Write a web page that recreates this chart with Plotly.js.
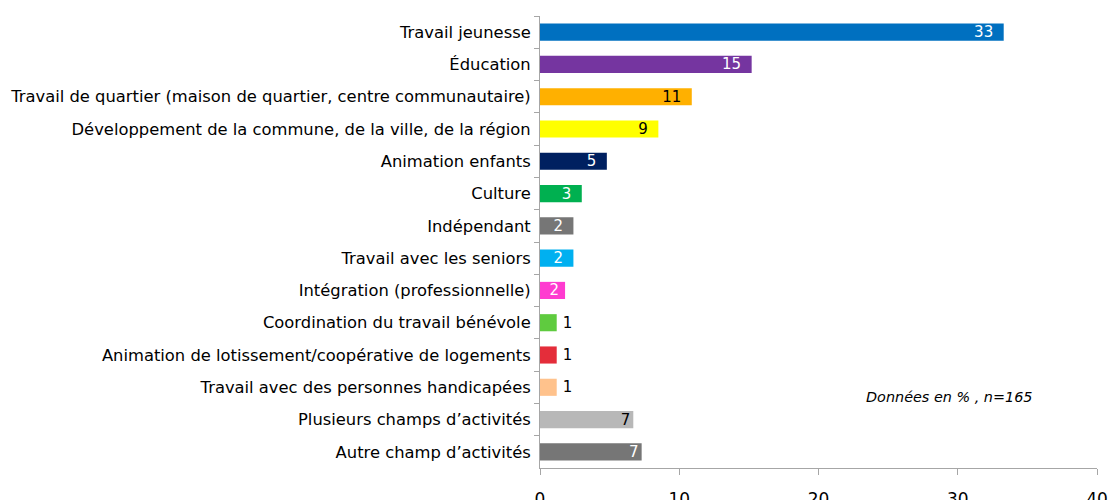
<!DOCTYPE html>
<html>
<head>
<meta charset="utf-8">
<script src="https://cdn.plot.ly/plotly-3.0.1.min.js"></script>
<style>html,body{margin:0;padding:0;background:#fff;}#chart{width:1110px;height:500px;}</style>
</head>
<body>
<div id="chart"></div>
<script>
const categories = [
  "Travail jeunesse",
  "Éducation",
  "Travail de quartier (maison de quartier, centre communautaire)",
  "Développement de la commune, de la ville, de la région",
  "Animation enfants",
  "Culture",
  "Indépendant",
  "Travail avec les seniors",
  "Intégration (professionnelle)",
  "Coordination du travail bénévole",
  "Animation de lotissement/coopérative de logements",
  "Travail avec des personnes handicapées",
  "Plusieurs champs d’activités",
  "Autre champ d’activités"
];
const values = [33.3, 15.2, 10.9, 8.5, 4.8, 3.0, 2.4, 2.4, 1.8, 1.2, 1.2, 1.2, 6.7, 7.3];
const valueLabels = ["33", "15", "11", "9", "5", "3", "2", "2", "2", "1", "1", "1", "7", "7"];
const barColors = ["#0070C0", "#7535A0", "#FFB000", "#FFFF00", "#002060", "#00B050", "#767676",
                   "#00B0F0", "#FF3BD0", "#5FCB3F", "#E42D3A", "#FFC28C", "#B8B8B8", "#767676"];
const labelColors = ["#ffffff", "#ffffff", "#000000", "#000000", "#ffffff", "#ffffff", "#ffffff",
                     "#ffffff", "#ffffff", "#000000", "#000000", "#000000", "#000000", "#ffffff"];
const labelPositions = ["inside", "inside", "inside", "inside", "inside", "inside", "inside",
                        "inside", "inside", "outside", "outside", "outside", "inside", "inside"];
const xTicks = [0, 10, 20, 30, 40];
const note = "Données en % , n=165";

// label padding (styling only): inside labels sit a little in from the bar end
const templates = valueLabels.map((t, i) => {
  if (labelPositions[i] === "outside") return "\u2009%{text}";
  if (i >= 12) return "%{text}";
  if (i === 8) return "%{text}\u2009";
  return "%{text}\u2002";
});

const trace = {
  type: "bar",
  orientation: "h",
  y: categories,
  x: values,
  text: valueLabels,
  texttemplate: templates,
  textposition: labelPositions,
  insidetextanchor: "end",
  textangle: 0,
  constraintext: "none",
  cliponaxis: false,
  textfont: {family: "DejaVu Sans", size: 15, color: labelColors},
  insidetextfont: {family: "DejaVu Sans", size: 15, color: labelColors},
  outsidetextfont: {family: "DejaVu Sans", size: 15, color: labelColors},
  marker: {color: barColors, line: {width: 0}},
  hoverinfo: "none"
};

const layout = {
  width: 1110,
  height: 500,
  margin: {l: 540, r: 13, t: 16, b: 32, pad: 0},
  paper_bgcolor: "#ffffff",
  plot_bgcolor: "#ffffff",
  bargap: 0.47,
  showlegend: false,
  font: {family: "DejaVu Sans", color: "#000000"},
  xaxis: {
    range: [0, 40],
    tickvals: xTicks,
    ticktext: xTicks.map(String),
    showgrid: false,
    zeroline: false,
    showline: true,
    linecolor: "#a6a6a6",
    linewidth: 1,
    ticks: "outside",
    ticklen: 6,
    tickcolor: "#a6a6a6",
    tickfont: {family: "DejaVu Sans", size: 17, color: "#000000"},
    ticklabelstandoff: 10,
    fixedrange: true
  },
  yaxis: {
    type: "category",
    autorange: "reversed",
    showgrid: false,
    zeroline: false,
    showline: true,
    linecolor: "#a6a6a6",
    linewidth: 1,
    ticks: "outside",
    tickson: "boundaries",
    ticklen: 5,
    tickcolor: "#a6a6a6",
    tickfont: {family: "DejaVu Sans", size: 16.35, color: "#000000"},
    ticklabelstandoff: 5,
    fixedrange: true
  },
  annotations: [{
    xref: "paper", yref: "paper",
    x: 0.736, y: 0.157,
    xanchor: "center", yanchor: "middle",
    text: "<i>" + note + "</i>",
    showarrow: false,
    font: {family: "DejaVu Sans", size: 14.4, color: "#000000"}
  }]
};

Plotly.newPlot("chart", [trace], layout, {displayModeBar: false, staticPlot: true});
</script>
</body>
</html>
